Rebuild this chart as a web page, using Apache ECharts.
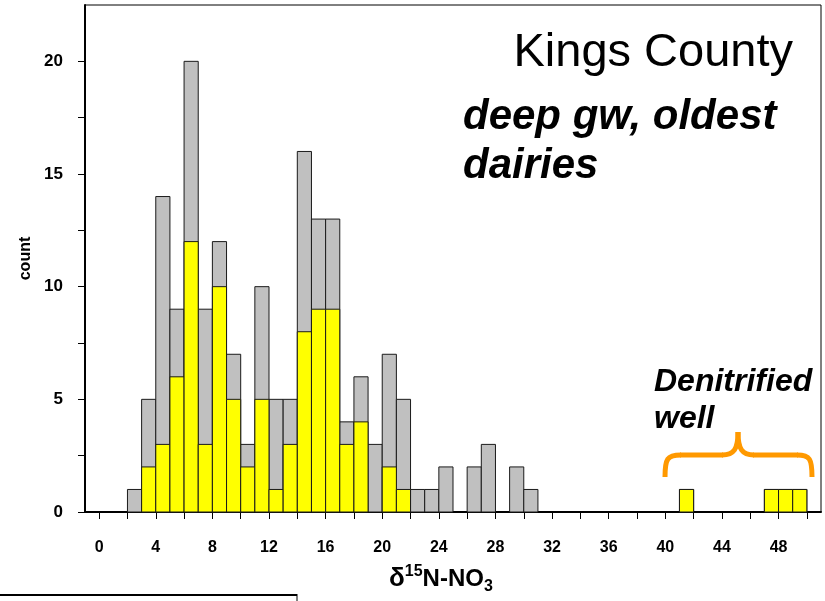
<!DOCTYPE html>
<html>
<head>
<meta charset="utf-8">
<script src="https://cdn.jsdelivr.net/npm/echarts@6/dist/echarts.min.js"></script>
<style>html,body{margin:0;padding:0;background:#fff;}#c{width:825px;height:601px;}</style>
</head>
<body>
<div id="c"></div>
<script>
// Histogram bins (left edge of each 1-unit bin of δ15N-NO3)
const binStarts = [2,3,4,5,6,7,8,9,10,11,12,13,14,15,16,17,18,19,20,21,22,23,24,25,26,27,28,29,30,31,32,33,34,35,36,37,38,39,40,41,42,43,44,45,46,47,48,49];
// Total count per bin (grey)
const totalCounts = [1,5,14,9,20,9,12,7,3,10,5,5,16,13,13,4,6,3,7,5,1,1,2,0,2,3,0,2,1,0,0,0,0,0,0,0,0,0,0,1,0,0,0,0,0,1,1,1];
// Subset count per bin (yellow)
const subsetCounts = [0,2,3,6,12,3,10,5,2,5,1,3,8,9,9,3,4,0,2,1,0,0,0,0,0,0,0,0,0,0,0,0,0,0,0,0,0,0,0,1,0,0,0,0,0,1,1,1];
const xTickValues = [0,2,4,6,8,10,12,14,16,18,20,22,24,26,28,30,32,34,36,38,40,42,44,46,48,50];
const xLabelValues = [0,4,8,12,16,20,24,28,32,36,40,44,48];
const yTickValues = [0,2.5,5,7.5,10,12.5,15,17.5,20];
const yLabelValues = [0,5,10,15,20];

const FONT = '"Liberation Sans", Arial, sans-serif';

function makeRender(fill){
  return function(params, api){
    const x0 = api.value(0);
    const v = api.value(1);
    if (!v) return null;
    const p1 = api.coord([x0, v]);
    const p2 = api.coord([x0 + 1, 0]);
    return {
      type: 'rect',
      shape: {x: p1[0], y: p1[1], width: p2[0] - p1[0], height: p2[1] - p1[1]},
      style: {fill: fill, stroke: '#1a1a1a', lineWidth: 1}
    };
  };
}

const braceStyle = {stroke: '#ff9900', lineWidth: 5, fill: null};

const chart = echarts.init(document.getElementById('c'), null, {renderer: 'canvas'});
chart.setOption({
  animation: false,
  backgroundColor: '#ffffff',
  grid: {left: 85, right: 4, top: 5, bottom: 89, show: true, borderColor: '#000', borderWidth: 1, backgroundColor: 'transparent'},
  xAxis: {
    type: 'value', min: -1, max: 51,
    axisLine: {show: true, onZero: false, lineStyle: {color: '#000', width: 2}},
    axisTick: {show: true, inside: false, length: 7, lineStyle: {color: '#000', width: 1}, customValues: xTickValues},
    axisLabel: {show: true, margin: 28, color: '#000', fontFamily: FONT, fontWeight: 'bold', fontSize: 16, customValues: xLabelValues},
    splitLine: {show: false}
  },
  yAxis: {
    type: 'value', min: 0, max: 22.5,
    name: 'count', nameLocation: 'middle', nameRotate: 90, nameGap: 50,
    nameTextStyle: {color: '#000', fontFamily: FONT, fontWeight: 'bold', fontSize: 16},
    axisLine: {show: true, onZero: false, lineStyle: {color: '#000', width: 2}},
    axisTick: {show: true, inside: false, length: 7, lineStyle: {color: '#000', width: 1}, customValues: yTickValues},
    axisLabel: {show: true, margin: 22, color: '#000', fontFamily: FONT, fontWeight: 'bold', fontSize: 17, customValues: yLabelValues},
    splitLine: {show: false}
  },
  series: [
    {type: 'custom', name: 'total', renderItem: makeRender('#c0c0c0'), data: binStarts.map((b, i) => [b, totalCounts[i]]), z: 2},
    {type: 'custom', name: 'subset', renderItem: makeRender('#ffff00'), data: binStarts.map((b, i) => [b, subsetCounts[i]]), z: 3}
  ],
  graphic: [
    {type: 'text', right: 32, top: 30, style: {text: 'Kings County', fill: '#000', font: 'normal 47px ' + FONT}},
    {type: 'text', left: 463, top: 96, style: {text: 'deep gw, oldest', fill: '#000', font: 'italic bold 42px ' + FONT}},
    {type: 'text', left: 463, top: 145, style: {text: 'dairies', fill: '#000', font: 'italic bold 42px ' + FONT}},
    {type: 'text', left: 654, top: 366, style: {text: 'Denitrified', fill: '#000', font: 'italic bold 32px ' + FONT}},
    {type: 'text', left: 654, top: 403, style: {text: 'well', fill: '#000', font: 'italic bold 32px ' + FONT}},
    {type: 'bezierCurve', shape: {x1: 665, y1: 477, cpx1: 665, cpy1: 459, cpx2: 667, cpy2: 455, x2: 681, y2: 455}, style: braceStyle},
    {type: 'line', shape: {x1: 680, y1: 455, x2: 723, y2: 455}, style: braceStyle},
    {type: 'bezierCurve', shape: {x1: 722, y1: 455, cpx1: 734, cpy1: 455, cpx2: 738, cpy2: 449, x2: 738, y2: 432}, style: braceStyle},
    {type: 'bezierCurve', shape: {x1: 738, y1: 432, cpx1: 738, cpy1: 449, cpx2: 742, cpy2: 455, x2: 754, y2: 455}, style: braceStyle},
    {type: 'line', shape: {x1: 753, y1: 455, x2: 798, y2: 455}, style: braceStyle},
    {type: 'bezierCurve', shape: {x1: 797, y1: 455, cpx1: 810, cpy1: 455, cpx2: 812, cpy2: 459, x2: 812, y2: 477}, style: braceStyle},
    {type: 'text', left: 389, top: 564, style: {
      text: '{d|δ}{sup|15}{a|N-NO}{sub|3}',
      rich: {
        d: {fontFamily: FONT, fontWeight: 'bold', fontSize: 26, fill: '#000'},
        a: {fontFamily: FONT, fontWeight: 'bold', fontSize: 24, fill: '#000'},
        sup: {fontFamily: FONT, fontWeight: 'bold', fontSize: 16, fill: '#000', padding: [0,0,14,0]},
        sub: {fontFamily: FONT, fontWeight: 'bold', fontSize: 16, fill: '#000', padding: [16,0,0,0]}
      }
    }},
    {type: 'line', shape: {x1: 0, y1: 595, x2: 297, y2: 595}, style: {stroke: '#000', lineWidth: 2}},
    {type: 'line', shape: {x1: 297, y1: 594, x2: 297, y2: 601}, style: {stroke: '#000', lineWidth: 1}}
  ]
});
</script>
</body>
</html>
